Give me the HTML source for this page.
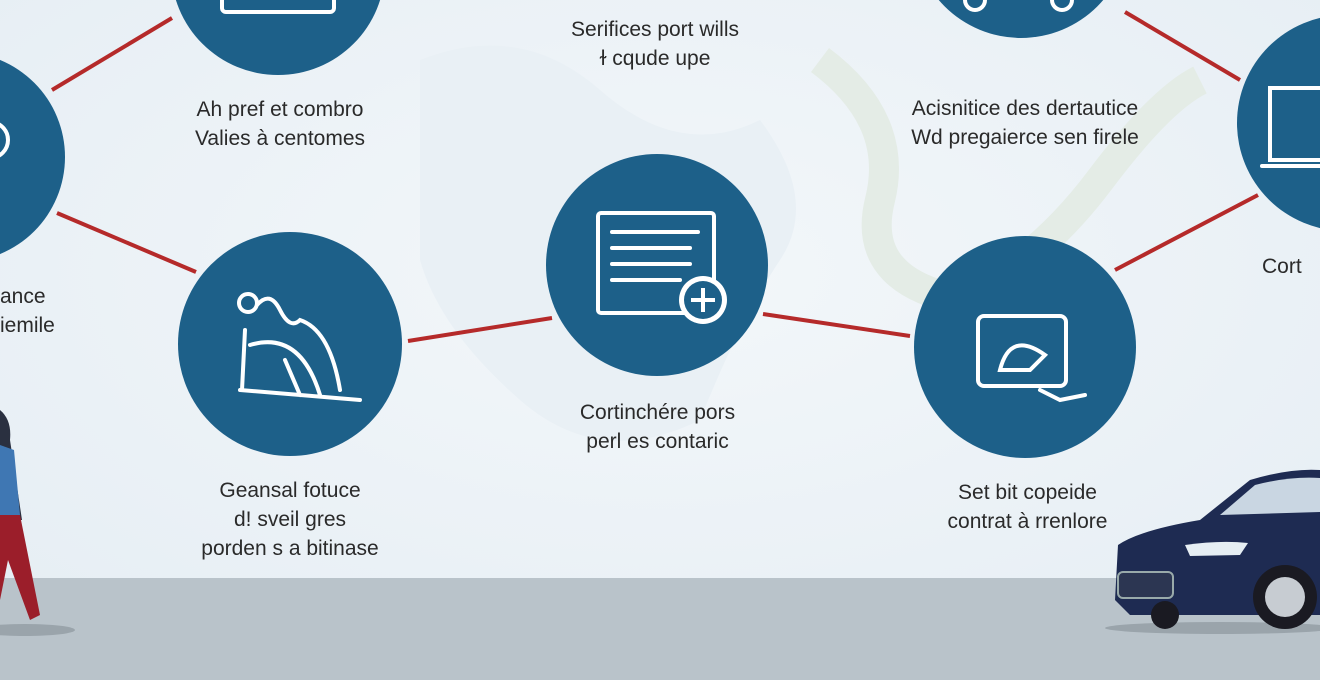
<!DOCTYPE html>
<html><head><meta charset="utf-8"><style>
html,body{margin:0;padding:0}
body{width:1320px;height:680px;overflow:hidden;position:relative;background:#eef4f8;font-family:"Liberation Sans",sans-serif}
.t{position:absolute;color:#2a2a2a;font-size:21px;line-height:29px;text-align:center;white-space:nowrap}
</style></head><body>
<svg width="1320" height="680" style="position:absolute;left:0;top:0">
<defs><radialGradient id="bg" cx="50%" cy="40%" r="70%"><stop offset="0" stop-color="#f3f7fa"/><stop offset="1" stop-color="#e6eef4"/></radialGradient></defs>
<rect width="1320" height="680" fill="url(#bg)"/>
<path d="M420 60 Q520 20 600 90 T760 120 Q820 200 780 260 T700 420 Q600 470 520 400 T420 260Z" fill="#e9f0f5"/>
<path d="M820 60 Q900 120 880 200 T960 300 Q1040 260 1100 180 T1200 80" fill="none" stroke="#e4ece6" stroke-width="30"/>
<rect y="578" width="1320" height="102" fill="#b9c3ca"/>
<g stroke="#b52a2a" stroke-width="4">
<line x1="52" y1="90" x2="172" y2="18"/><line x1="57" y1="213" x2="196" y2="272"/>
<line x1="408" y1="341" x2="552" y2="318"/><line x1="763" y1="314" x2="910" y2="336"/>
<line x1="1125" y1="12" x2="1240" y2="80"/><line x1="1115" y1="270" x2="1258" y2="195"/>
</g>
<g fill="#1d6089">
<circle cx="278" cy="-32" r="107"/><circle cx="-40" cy="157" r="105"/>
<circle cx="290" cy="344" r="112"/><circle cx="657" cy="265" r="111"/>
<circle cx="1025" cy="347" r="111"/><circle cx="1021" cy="-70" r="108"/>
<circle cx="1345" cy="123" r="108"/>
</g>
<g fill="none" stroke="#fff" stroke-width="4" stroke-linecap="round">
<rect x="222" y="-10" width="112" height="22" rx="4"/>
<circle cx="-10" cy="140" r="18"/>
<rect x="598" y="213" width="116" height="100" rx="3"/>
<line x1="612" y1="232" x2="698" y2="232"/><line x1="612" y1="248" x2="690" y2="248"/><line x1="612" y1="264" x2="690" y2="264"/><line x1="612" y1="280" x2="680" y2="280"/>
<rect x="1270" y="88" width="60" height="72"/><line x1="1262" y1="166" x2="1320" y2="166"/>
<rect x="978" y="316" width="88" height="70" rx="6"/>
<path d="M1000 370 Q1010 330 1045 355 L1030 370Z"/><path d="M1040 390 L1060 400 L1085 395"/>
<circle cx="248" cy="303" r="9"/><path d="M257 305 Q270 290 280 310 T300 320 Q330 330 340 390 M245 330 L242 390 M240 390 L360 400 M250 345 Q300 330 320 395 M285 360 L300 395"/>
<circle cx="975" cy="0" r="10"/><circle cx="1062" cy="0" r="10"/>
</g>
<circle cx="703" cy="300" r="24" fill="#fff"/><circle cx="703" cy="300" r="19" fill="#1d6089"/>
<g stroke="#fff" stroke-width="4"><line x1="691" y1="300" x2="715" y2="300"/><line x1="703" y1="288" x2="703" y2="312"/></g>
<!-- person -->
<ellipse cx="25" cy="630" rx="50" ry="6" fill="#9aa4ab"/>
<path d="M0 410 Q12 420 10 440 L22 520 L0 520Z" fill="#2a3040"/>
<path d="M0 445 L14 450 L20 515 L0 515Z" fill="#3f77b3"/>
<path d="M0 515 L20 515 L40 615 L30 620 L8 560 L0 600Z" fill="#9b1e2a"/>
<!-- car -->
<ellipse cx="1220" cy="628" rx="115" ry="6" fill="#9aa4ab"/>
<path d="M1115 600 L1118 545 Q1140 530 1200 520 L1250 480 Q1290 468 1320 470 L1320 615 L1130 615Z" fill="#1e2b52"/>
<path d="M1220 515 L1255 485 Q1290 476 1320 478 L1320 512Z" fill="#c9d6e2"/>
<path d="M1185 545 Q1220 540 1248 543 L1240 555 L1190 556Z" fill="#e6eef3"/>
<rect x="1118" y="572" width="55" height="26" rx="5" fill="#2c3652" stroke="#9aa" stroke-width="2"/>
<circle cx="1285" cy="597" r="32" fill="#1a1a22"/><circle cx="1285" cy="597" r="20" fill="#c7ccd2"/>
<circle cx="1165" cy="615" r="14" fill="#1a1a22"/>
</svg>
<div class="t" style="left:520px;top:15px;width:270px">Serifices port wills<br>ɫ cqude upe</div>
<div class="t" style="left:150px;top:95px;width:260px">Ah pref et combro<br>Valies à centomes</div>
<div class="t" style="left:860px;top:94px;width:330px">Acisnitice des dertautice<br>Wd pregaierce sen firele</div>
<div class="t" style="left:0px;top:282px;text-align:left">ance<br>iemile</div>
<div class="t" style="left:1262px;top:252px;text-align:left">Cort</div>
<div class="t" style="left:520px;top:398px;width:275px">Cortinchére pors<br>perl es contaric</div>
<div class="t" style="left:155px;top:476px;width:270px">Geansal fotuce<br>d! sveil gres<br>porden s a bitinase</div>
<div class="t" style="left:900px;top:478px;width:255px">Set bit copeide<br>contrat à rrenlore</div>
</body></html>
